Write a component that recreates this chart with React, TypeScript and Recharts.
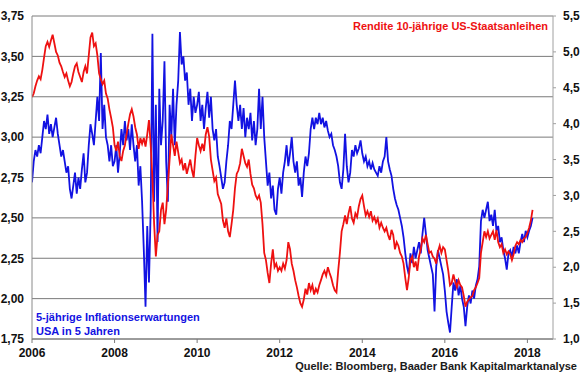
import React from "react";
import { LineChart, Line, XAxis, YAxis, CartesianGrid } from "recharts";

// Half-monthly readings, starting January 2006 (24 points per year)
const START_YEAR = 2006;
const STEPS_PER_YEAR = 24;

// Rendite 10-jährige US-Staatsanleihen (right axis, %)
const yieldValues: number[] = [
  // 2006
  4.37, 4.42, 4.52, 4.6, 4.66, 4.62, 4.75, 4.92, 5.08, 5.14, 5.07, 5.16,
  5.24, 5.12, 5.0, 4.95, 4.85, 4.8, 4.72, 4.65, 4.7, 4.6, 4.52, 4.58,
  // 2007
  4.7, 4.8, 4.84, 4.72, 4.65, 4.58, 4.72, 4.8, 4.7, 4.95, 5.2, 5.27,
  5.08, 5.12, 4.95, 4.7, 4.62, 4.55, 4.6, 4.42, 4.35, 4.2, 4.08, 3.95,
  // 2008
  3.7, 3.62, 3.75, 3.55, 3.48, 3.62, 3.7, 3.85, 4.0, 4.13, 4.2, 4.1,
  3.95, 3.85, 3.65, 3.8, 3.72, 3.8, 3.68, 3.85, 4.05, 3.7, 3.25, 2.6,
  // 2009
  2.15, 2.45, 2.5, 2.8, 2.9, 2.6, 2.8, 3.15, 3.5, 3.85, 3.7, 3.55,
  3.75, 3.6, 3.45, 3.5, 3.35, 3.45, 3.3, 3.4, 3.5, 3.35, 3.25, 3.55,
  // 2010
  3.8, 3.7, 3.62, 3.72, 3.62, 3.85, 3.95, 3.82, 3.5, 3.35, 3.2, 3.25,
  3.02, 2.95, 2.88, 2.65, 2.55, 2.68, 2.5, 2.42, 2.6, 2.8, 3.1, 3.3,
  // 2011
  3.35, 3.45, 3.65, 3.55, 3.45, 3.4, 3.5, 3.3, 3.15, 3.1, 3.0, 2.95,
  3.0, 2.9, 2.6, 2.2, 2.1, 1.92, 1.78, 2.05, 2.25, 2.0, 2.05, 1.95,
  // 2012
  2.0, 1.95, 2.05, 1.98, 2.1, 2.35, 2.25, 2.05, 1.95, 1.82, 1.72, 1.6,
  1.5, 1.45, 1.55, 1.7, 1.62, 1.78, 1.68, 1.75, 1.62, 1.7, 1.65, 1.75,
  // 2013
  1.82, 1.9, 1.95, 1.88, 2.0, 1.92, 1.85, 1.75, 1.68, 1.65, 1.95, 2.2,
  2.5, 2.6, 2.72, 2.6, 2.75, 2.85, 2.68, 2.62, 2.75, 2.7, 2.85, 2.95,
  // 2014
  3.0, 2.85, 2.72, 2.78, 2.7, 2.78, 2.65, 2.7, 2.62, 2.68, 2.55, 2.62,
  2.55, 2.5, 2.55, 2.45, 2.38, 2.52, 2.45, 2.25, 2.35, 2.3, 2.2, 2.15,
  // 2015
  2.05, 1.85, 1.68, 1.85, 2.1, 2.15, 2.0, 2.08, 1.95, 2.15, 2.25, 2.4,
  2.35, 2.45, 2.32, 2.2, 2.22, 2.15, 2.12, 2.05, 2.22, 2.3, 2.2, 2.28,
  // 2016
  2.25, 2.1, 1.95, 1.75, 1.78, 1.9, 1.8, 1.72, 1.82, 1.75, 1.72, 1.6,
  1.45, 1.52, 1.55, 1.58, 1.6, 1.68, 1.72, 1.78, 1.85, 2.2, 2.35, 2.5,
  // 2017
  2.42, 2.5, 2.4, 2.45, 2.5, 2.38, 2.52, 2.35, 2.28, 2.32, 2.2, 2.25,
  2.18, 2.22, 2.18, 2.1, 2.18, 2.3, 2.35, 2.32, 2.38, 2.35, 2.4, 2.42,
  // 2018
  2.48, 2.55, 2.65, 2.8,
];

// 5-jährige Inflationserwartungen USA in 5 Jahren (left axis, %)
const inflationValues: number[] = [
  // 2006
  2.72, 2.85, 2.92, 2.88, 2.95, 2.9, 3.0, 3.1, 3.05, 3.14, 3.02, 3.08,
  3.0, 3.06, 3.12, 3.02, 2.95, 2.88, 2.92, 2.85, 2.78, 2.82, 2.68, 2.62,
  // 2007
  2.7, 2.78, 2.65, 2.75, 2.68, 2.8, 2.9, 2.72, 2.78, 2.95, 3.08, 3.02,
  2.95, 3.1, 3.25, 3.1, 3.52, 3.05, 3.2, 3.0, 2.95, 2.85, 2.95, 2.82,
  // 2008
  2.85, 2.95, 2.78, 2.9, 3.05, 2.95, 3.1, 2.98, 3.05, 2.92, 3.08, 2.95,
  2.85, 2.95, 2.7, 2.82, 2.6, 2.3, 1.95, 2.45, 2.1, 2.55, 3.64, 2.6,
  // 2009
  3.2, 2.35, 3.3, 2.95, 3.1, 3.47, 2.85, 2.6, 3.2, 3.0, 3.3, 2.95,
  3.2, 3.35, 3.65, 3.45, 3.5, 3.35, 3.4, 3.2, 3.3, 3.1, 3.25, 3.15,
  // 2010
  3.2, 3.28, 3.1, 3.2, 3.05, 3.18, 3.28, 3.12, 3.25, 3.05, 2.98, 3.05,
  2.88, 2.82, 2.75, 2.68, 2.72, 2.85, 2.95, 3.1, 3.05, 3.2, 3.35, 3.2,
  // 2011
  3.1, 3.2, 3.05, 3.18, 3.0, 3.12, 3.05, 3.15, 2.98, 3.1, 2.95, 3.05,
  3.3, 3.05, 3.25, 3.0, 2.85, 2.7, 2.78, 2.62, 2.7, 2.55, 2.52, 2.68,
  // 2012
  2.75, 2.65, 2.78, 2.85, 2.95, 2.82, 2.9, 3.0, 2.85, 2.78, 2.85, 2.7,
  2.75, 2.63, 2.78, 2.88, 2.82, 2.9, 3.05, 3.12, 3.05, 3.12, 3.08, 3.15,
  // 2013
  3.08, 3.12, 3.06, 3.1, 3.04, 3.0, 3.02, 2.95, 2.92, 2.88, 2.82, 2.72,
  2.68, 2.8, 3.02, 2.82, 2.72, 2.78, 2.92, 2.88, 2.95, 2.9, 2.93, 2.98,
  // 2014
  2.9, 2.85, 2.88, 2.82, 2.85, 2.8, 2.84, 2.8, 2.78, 2.76, 2.82, 2.78,
  2.85, 2.88, 3.0, 2.85, 2.8, 2.76, 2.68, 2.62, 2.58, 2.55, 2.5, 2.45,
  // 2015
  2.38, 2.28, 2.2, 2.15, 2.28, 2.22, 2.32, 2.25, 2.3, 2.35, 2.28, 2.4,
  2.5, 2.4, 2.3, 2.25, 2.2, 2.15, 1.92, 2.2, 2.3, 2.25, 2.2, 2.15,
  // 2016
  2.05, 1.92, 1.85, 1.79, 1.95, 2.1, 2.05, 2.12, 2.02, 2.08, 2.0, 1.95,
  1.83, 1.95, 2.02, 1.97, 2.05, 2.0, 2.08, 2.12, 2.2, 2.48, 2.55, 2.5,
  // 2017
  2.55, 2.6, 2.48, 2.52, 2.45, 2.55, 2.42, 2.45, 2.35, 2.38, 2.3, 2.25,
  2.18, 2.28, 2.3, 2.26, 2.32, 2.28, 2.33, 2.28, 2.35, 2.4, 2.35, 2.42,
  // 2018
  2.38, 2.42, 2.45, 2.5,
];

const xTicks = [2006, 2008, 2010, 2012, 2014, 2016, 2018];
const leftTicks = [1.75, 2.0, 2.25, 2.5, 2.75, 3.0, 3.25, 3.5, 3.75];
const rightTicks = [1.0, 1.5, 2.0, 2.5, 3.0, 3.5, 4.0, 4.5, 5.0, 5.5];

const titleText = "Rendite 10-jährige US-Staatsanleihen";
const legendLine1 = "5-jährige Inflationserwartungen";
const legendLine2 = "USA in 5 Jahren";
const sourceText = "Quelle: Bloomberg, Baader Bank Kapitalmarktanalyse";

const data = yieldValues.map((y, i) => ({
  t: START_YEAR + i / STEPS_PER_YEAR,
  yieldVal: y,
  inflVal: inflationValues[i],
}));

const FONT = "'Liberation Sans', Arial, sans-serif";
const tickStyle = { fontFamily: FONT, fontSize: 12, fontWeight: 700, fill: "#111" };
const RED = "#ee1111";
const BLUE = "#1212e2";

const fmt = (d: number) => (v: number) => v.toFixed(d).replace(".", ",");

export default function App() {
  return (
    <div style={{ position: "absolute", left: 0, top: 0, width: 580, height: 374, background: "#fff" }}>
      <LineChart
        width={580}
        height={374}
        data={data}
        margin={{ top: 16, right: 0, bottom: 0, left: 0 }}
      >
        <CartesianGrid yAxisId="left" vertical={false} stroke="#7a7a7a" strokeWidth={1} />
        <XAxis
          dataKey="t"
          type="number"
          domain={[2006, 2018.62]}
          ticks={xTicks}
          allowDataOverflow
          height={35}
          tickSize={4}
          tickMargin={5}
          tick={tickStyle}
          axisLine={{ stroke: "#7a7a7a" }}
          tickLine={{ stroke: "#7a7a7a" }}
          tickFormatter={(v: number) => String(Math.round(v))}
        />
        <YAxis
          yAxisId="left"
          orientation="left"
          domain={[1.75, 3.75]}
          ticks={leftTicks}
          allowDataOverflow
          width={32}
          tickSize={6}
          tickMargin={2}
          tickLine={false}
          tick={tickStyle}
          axisLine={{ stroke: "#8a8a8a" }}
          tickFormatter={fmt(2)}
        />
        <YAxis
          yAxisId="right"
          orientation="right"
          domain={[1, 5.5]}
          ticks={rightTicks}
          allowDataOverflow
          width={27}
          tickSize={3}
          tickMargin={7}
          tick={tickStyle}
          axisLine={{ stroke: "#a0a0a0" }}
          tickLine={{ stroke: "#a0a0a0" }}
          tickFormatter={fmt(1)}
        />
        <Line
          yAxisId="left"
          type="linear"
          dataKey="inflVal"
          stroke={BLUE}
          strokeWidth={1.8}
          dot={false}
          isAnimationActive={false}
        />
        <Line
          yAxisId="right"
          type="linear"
          dataKey="yieldVal"
          stroke={RED}
          strokeWidth={1.8}
          dot={false}
          isAnimationActive={false}
        />
      </LineChart>
      <div
        style={{
          position: "absolute",
          right: 32,
          top: 20,
          fontFamily: FONT,
          fontSize: 11,
          fontWeight: 700,
          lineHeight: "13px",
          color: RED,
          whiteSpace: "nowrap",
        }}
      >
        {titleText}
      </div>
      <div
        style={{
          position: "absolute",
          left: 36,
          top: 311,
          fontFamily: FONT,
          fontSize: 11,
          fontWeight: 700,
          lineHeight: "13.5px",
          color: BLUE,
          whiteSpace: "nowrap",
        }}
      >
        <div>{legendLine1}</div>
        <div>{legendLine2}</div>
      </div>
      <div
        style={{
          position: "absolute",
          right: 3,
          top: 361,
          fontFamily: FONT,
          fontSize: 11,
          fontWeight: 700,
          lineHeight: "11px",
          color: "#1a1a1a",
          whiteSpace: "nowrap",
        }}
      >
        {sourceText}
      </div>
    </div>
  );
}
